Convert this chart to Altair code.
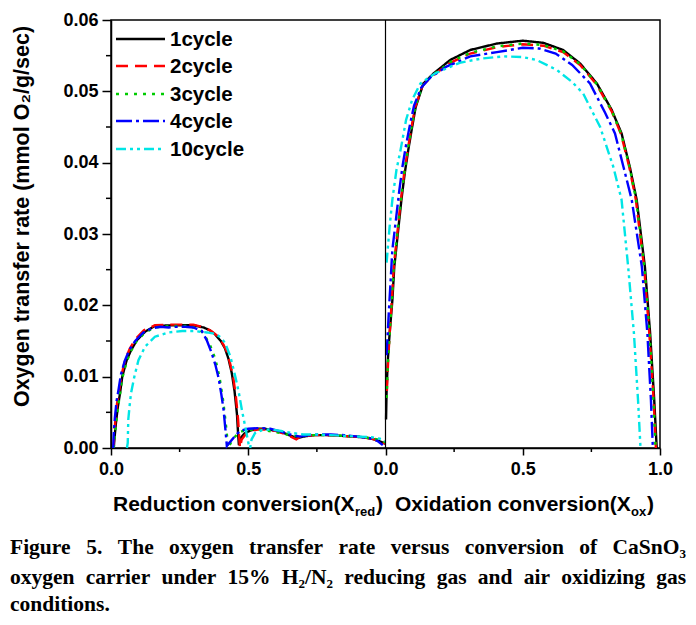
import altair as alt
import pandas as pd

CYCLES = ["1cycle", "2cycle", "3cycle", "4cycle", "10cycle"]
COLORS = ["#000000", "#FF0000", "#00CC00", "#0000FF", "#00E5E5"]
DASHES = [[1, 0], [12, 7], [3, 6], [16, 4, 3, 4], [10, 4, 3, 4, 3, 4]]

# ---- reduction branch (left panel): conversion X_red, rate ----
c1_red_x = [0.010,0.013,0.018,0.025,0.033,0.041,0.057,0.073,0.094,0.124,0.160,0.220,0.300,0.337,0.360,0.380,0.400,0.415,0.428,0.440,0.450,0.459,0.463,0.466,0.472,0.485,0.505,0.530,0.560,0.600,0.630,0.655,0.680,0.700,0.740,0.790,0.840,0.880,0.920,0.950,0.975,1.000]
c1_red_y = [0.0000,0.0015,0.0035,0.0058,0.0077,0.0100,0.0123,0.0137,0.0151,0.0163,0.0171,0.0172,0.0172,0.0169,0.0165,0.0159,0.0150,0.0140,0.0125,0.0105,0.0080,0.0047,0.0020,0.0004,0.0014,0.0020,0.0024,0.0027,0.0027,0.0024,0.0021,0.0017,0.0014,0.0016,0.0018,0.0018,0.0017,0.0016,0.0015,0.0013,0.0010,0.0006]

c2_red_x = [0.009,0.012,0.016,0.022,0.030,0.038,0.052,0.068,0.090,0.120,0.160,0.220,0.300,0.340,0.365,0.385,0.405,0.420,0.433,0.445,0.455,0.463,0.467,0.470,0.476,0.490,0.510,0.535,0.565,0.600,0.630,0.655,0.675,0.690,0.740,0.790,0.840,0.880,0.920,0.950,0.975,1.000]
c2_red_y = [0.0000,0.0018,0.0040,0.0062,0.0081,0.0102,0.0124,0.0139,0.0153,0.0165,0.0172,0.0173,0.0173,0.0169,0.0164,0.0158,0.0148,0.0137,0.0120,0.0100,0.0072,0.0040,0.0015,0.0000,0.0012,0.0019,0.0024,0.0026,0.0026,0.0024,0.0020,0.0016,0.0012,0.0016,0.0018,0.0018,0.0017,0.0016,0.0015,0.0013,0.0010,0.0006]

c3_red_x = [0.010,0.013,0.018,0.025,0.033,0.041,0.057,0.073,0.094,0.124,0.160,0.220,0.280,0.310,0.335,0.360,0.380,0.395,0.408,0.418,0.424,0.427,0.440,0.465,0.490,0.520,0.550,0.590,0.630,0.660,0.690,0.720,0.760,0.800,0.850,0.900,0.940,0.970,1.000]
c3_red_y = [0.0000,0.0014,0.0033,0.0056,0.0076,0.0098,0.0121,0.0136,0.0150,0.0162,0.0169,0.0171,0.0171,0.0168,0.0162,0.0145,0.0125,0.0100,0.0068,0.0035,0.0012,0.0000,0.0010,0.0022,0.0025,0.0026,0.0025,0.0023,0.0020,0.0017,0.0016,0.0018,0.0018,0.0018,0.0017,0.0016,0.0014,0.0012,0.0008]

c4_red_x = [0.008,0.010,0.014,0.020,0.028,0.036,0.050,0.066,0.088,0.118,0.150,0.180,0.210,0.240,0.270,0.300,0.331,0.350,0.365,0.380,0.392,0.402,0.410,0.417,0.422,0.450,0.470,0.500,0.540,0.580,0.620,0.660,0.690,0.720,0.760,0.800,0.850,0.900,0.940,0.970,0.990]
c4_red_y = [0.0000,0.0020,0.0042,0.0065,0.0083,0.0103,0.0122,0.0137,0.0150,0.0162,0.0168,0.0170,0.0169,0.0170,0.0170,0.0169,0.0164,0.0150,0.0135,0.0117,0.0098,0.0075,0.0054,0.0025,0.0003,0.0016,0.0024,0.0027,0.0028,0.0027,0.0023,0.0018,0.0016,0.0018,0.0019,0.0019,0.0018,0.0016,0.0014,0.0010,0.0004]

c10_red_x = [0.058,0.061,0.063,0.068,0.073,0.085,0.100,0.124,0.160,0.210,0.260,0.300,0.349,0.380,0.400,0.416,0.435,0.453,0.466,0.477,0.490,0.501,0.507,0.512,0.525,0.550,0.580,0.620,0.660,0.700,0.750,0.800,0.850,0.900,0.950,0.980,1.000]
c10_red_y = [0.0000,0.0007,0.0040,0.0060,0.0077,0.0100,0.0123,0.0142,0.0156,0.0162,0.0164,0.0164,0.0162,0.0160,0.0155,0.0147,0.0128,0.0100,0.0077,0.0053,0.0028,0.0006,0.0000,0.0012,0.0021,0.0025,0.0026,0.0024,0.0021,0.0019,0.0019,0.0018,0.0017,0.0016,0.0015,0.0013,0.0010]

# ---- oxidation branch (right panel): conversion X_ox, rate ----
c1_ox_x = [0.002,0.004,0.008,0.013,0.017,0.025,0.032,0.045,0.058,0.070,0.083,0.097,0.110,0.138,0.175,0.236,0.309,0.406,0.500,0.575,0.647,0.709,0.770,0.824,0.860,0.890,0.915,0.945,0.964,0.979,0.988]
c1_ox_y = [0.0040,0.0080,0.0120,0.0150,0.0170,0.0207,0.0254,0.0301,0.0348,0.0385,0.0418,0.0450,0.0478,0.0511,0.0525,0.0544,0.0558,0.0567,0.0571,0.0568,0.0558,0.0539,0.0511,0.0474,0.0441,0.0394,0.0348,0.0254,0.0161,0.0067,0.0000]

c2_ox_x = [0.005,0.010,0.015,0.023,0.030,0.043,0.056,0.068,0.081,0.095,0.108,0.135,0.172,0.236,0.309,0.406,0.500,0.575,0.647,0.709,0.770,0.824,0.858,0.888,0.912,0.942,0.961,0.977,0.985]
c2_ox_y = [0.0080,0.0125,0.0160,0.0207,0.0254,0.0301,0.0348,0.0385,0.0418,0.0450,0.0478,0.0508,0.0522,0.0540,0.0553,0.0562,0.0566,0.0564,0.0555,0.0537,0.0509,0.0472,0.0440,0.0394,0.0348,0.0254,0.0161,0.0067,0.0000]

c3_ox_x = [0.004,0.009,0.015,0.023,0.030,0.043,0.056,0.068,0.081,0.095,0.108,0.135,0.172,0.236,0.309,0.406,0.500,0.575,0.647,0.709,0.770,0.824,0.859,0.889,0.913,0.943,0.962,0.976,0.984]
c3_ox_y = [0.0070,0.0120,0.0160,0.0207,0.0254,0.0301,0.0348,0.0385,0.0418,0.0450,0.0478,0.0508,0.0523,0.0541,0.0554,0.0563,0.0567,0.0565,0.0556,0.0538,0.0510,0.0473,0.0440,0.0394,0.0348,0.0254,0.0161,0.0067,0.0000]

c4_ox_x = [0.004,0.008,0.012,0.018,0.025,0.038,0.050,0.062,0.075,0.090,0.104,0.130,0.165,0.224,0.309,0.406,0.500,0.560,0.620,0.680,0.745,0.800,0.836,0.867,0.897,0.934,0.954,0.967,0.974]
c4_ox_y = [0.0130,0.0160,0.0190,0.0230,0.0278,0.0320,0.0360,0.0395,0.0425,0.0455,0.0480,0.0505,0.0520,0.0535,0.0549,0.0555,0.0561,0.0560,0.0553,0.0537,0.0511,0.0470,0.0441,0.0394,0.0348,0.0254,0.0161,0.0067,0.0000]

c10_ox_x = [0.004,0.008,0.015,0.025,0.040,0.055,0.075,0.097,0.127,0.180,0.270,0.350,0.430,0.500,0.550,0.624,0.680,0.720,0.782,0.830,0.860,0.884,0.905,0.920,0.929]
c10_ox_y = [0.0260,0.0278,0.0310,0.0348,0.0390,0.0418,0.0460,0.0488,0.0511,0.0525,0.0540,0.0546,0.0549,0.0548,0.0544,0.0530,0.0513,0.0497,0.0450,0.0394,0.0348,0.0254,0.0161,0.0067,0.0000]

Y_TICKS = [0.0, 0.01, 0.02, 0.03, 0.04, 0.05, 0.06]
Y_MINOR = [0.005, 0.015, 0.025, 0.035, 0.045, 0.055]
X_TICKS = [0.0, 0.5, 1.0, 1.5, 2.0]
X_MINOR = [0.25, 0.75, 1.25, 1.75]

series = [
    ("1cycle", c1_red_x, c1_red_y, c1_ox_x, c1_ox_y),
    ("2cycle", c2_red_x, c2_red_y, c2_ox_x, c2_ox_y),
    ("3cycle", c3_red_x, c3_red_y, c3_ox_x, c3_ox_y),
    ("4cycle", c4_red_x, c4_red_y, c4_ox_x, c4_ox_y),
    ("10cycle", c10_red_x, c10_red_y, c10_ox_x, c10_ox_y),
]

rows = []
for name, rx, ry, ox, oy in series:
    assert len(rx) == len(ry) and len(ox) == len(oy)
    for i, (u, v) in enumerate(zip(rx, ry)):
        rows.append({"cycle": name, "seg": name + "_red", "pos": u, "rate": v, "idx": i})
    for i, (u, v) in enumerate(zip(ox, oy)):
        rows.append({"cycle": name, "seg": name + "_ox", "pos": 1.0 + u, "rate": v, "idx": i})
df = pd.DataFrame(rows)

W, H = 549, 428
OX, OY = 111, 20  # page position of plot origin
xscale = alt.Scale(domain=[0, 2], nice=False, zero=False)
yscale = alt.Scale(domain=[0, 0.06], nice=False, zero=False)

SANS = "Liberation Sans"
SERIF = "Liberation Serif"

lines = alt.Chart(df).mark_line(strokeWidth=2.4).encode(
    x=alt.X("pos:Q", scale=xscale, axis=alt.Axis(
        values=X_TICKS, title=None,
        labelExpr="datum.value < 0.99 ? format(datum.value, '.1f') : format(datum.value - 1, '.1f')",
        tickSize=7, labelPadding=5, labelFontSize=18, labelFlush=False, labelOverlap=False)),
    y=alt.Y("rate:Q", scale=yscale, axis=alt.Axis(
        values=Y_TICKS, format=".2f", tickSize=9, labelPadding=4, labelFontSize=18,
        title="Oxygen transfer rate (mmol O\u2082/g/sec)", titleFontSize=21.5,
        titleX=-89, titleY=196, titleAngle=270, titleAlign="center", titleBaseline="middle")),
    color=alt.Color("cycle:N", scale=alt.Scale(domain=CYCLES, range=COLORS), legend=None),
    strokeDash=alt.StrokeDash("cycle:N", scale=alt.Scale(domain=CYCLES, range=DASHES), legend=None),
    detail="seg:N",
    order="idx:Q",
)

divider = alt.Chart(pd.DataFrame({"pos": [1.0]})).mark_rule(color="black", strokeWidth=1.2).encode(
    x=alt.X("pos:Q", scale=xscale)
)
xminor = alt.Chart(pd.DataFrame({"pos": X_MINOR})).mark_rule(color="black", strokeWidth=1.5).encode(
    x=alt.X("pos:Q", scale=xscale), y=alt.value(H), y2=alt.value(H + 4)
)
yminor = alt.Chart(pd.DataFrame({"rate": Y_MINOR})).mark_rule(color="black", strokeWidth=1.5).encode(
    y=alt.Y("rate:Q", scale=yscale), x=alt.value(-5), x2=alt.value(0)
)

one = pd.DataFrame({"k": [0]})


def label(text, px, py, size, font, weight="bold", align="left", baseline="alphabetic"):
    return alt.Chart(one).mark_text(
        text=text, align=align, baseline=baseline, font=font,
        fontSize=size, fontWeight=weight, color="black"
    ).encode(x=alt.value(px - OX), y=alt.value(py - OY))


# legend drawn by hand (symbol samples + labels)
legend_rows = [39, 66, 94, 121, 149]
legend_layers = []
for name, col, dash, ry in zip(CYCLES, COLORS, DASHES, legend_rows):
    legend_layers.append(
        alt.Chart(one).mark_rule(color=col, strokeWidth=2.6, strokeDash=dash).encode(
            x=alt.value(116 - OX), x2=alt.value(165 - OX), y=alt.value(ry - OY)
        )
    )
    legend_layers.append(label(name, 170, ry + 1, 20.5, SANS, baseline="middle"))

texts = [
    label("Reduction conversion(X", 113, 511, 21, SANS),
    label("red", 355, 516, 13, SANS),
    label(")", 376, 511, 21, SANS),
    label("Oxidation conversion(X", 395, 511, 21, SANS),
    label("ox", 631, 516, 13, SANS),
    label(")", 647, 511, 21, SANS),
]

# --- justified caption (Times-Bold advance widths, per 1000 em) ---
TB = {"F": 611, "T": 667, "C": 722, "S": 556, "O": 778, "H": 778, "N": 722,
      "a": 500, "c": 444, "d": 556, "e": 444, "f": 333, "g": 500, "h": 556, "i": 278,
      "n": 556, "o": 500, "r": 444, "s": 389, "t": 333, "u": 556, "v": 500, "x": 500,
      "y": 500, "z": 444, "l": 278, "m": 833, ".": 250, "/": 278, "%": 1000,
      "1": 500, "2": 500, "3": 500, "5": 500}
CAP, SUB = 21.5, 13
LEFT, RIGHT = 10, 686

# each word is a list of (text, is_subscript) pieces
cap_lines = [
    ([[("Figure", 0)], [("5.", 0)], [("The", 0)], [("oxygen", 0)], [("transfer", 0)],
      [("rate", 0)], [("versus", 0)], [("conversion", 0)], [("of", 0)],
      [("CaSnO", 0), ("3", 1)]], 554, True),
    ([[("oxygen", 0)], [("carrier", 0)], [("under", 0)], [("15%", 0)],
      [("H", 0), ("2", 1), ("/N", 0), ("2", 1)], [("reducing", 0)], [("gas", 0)],
      [("and", 0)], [("air", 0)], [("oxidizing", 0)], [("gas", 0)]], 584, True),
    ([[("conditions.", 0)]], 611, False),
]


def piece_w(t, sub):
    return sum(TB.get(ch, 500) for ch in t) / 1000.0 * (SUB if sub else CAP)


for words, base, justify in cap_lines:
    widths = [sum(piece_w(t, s) for t, s in w) for w in words]
    gap = (RIGHT - LEFT - sum(widths)) / (len(words) - 1) if justify and len(words) > 1 else CAP * 0.25
    x = LEFT
    for w, wd in zip(words, widths):
        px = x
        for t, s in w:
            texts.append(label(t, px, base + (4 if s else 0), SUB if s else CAP, SERIF))
            px += piece_w(t, s)
        x += wd + gap

chart = alt.layer(lines, divider, xminor, yminor, *legend_layers, *texts).properties(
    width=W, height=H,
    padding={"left": 103, "top": 12, "right": 28, "bottom": 169},
    autosize=alt.AutoSizeParams(type="none"),
).configure_view(stroke="black", strokeWidth=1.5).configure_axis(
    grid=False, domainColor="black", domainWidth=1.5, tickColor="black", tickWidth=1.5,
    labelColor="black", labelFont=SANS, labelFontWeight="bold",
    titleColor="black", titleFont=SANS, titleFontWeight="bold",
)

chart.save("out.html", embed_options={"renderer": "svg", "actions": False})
